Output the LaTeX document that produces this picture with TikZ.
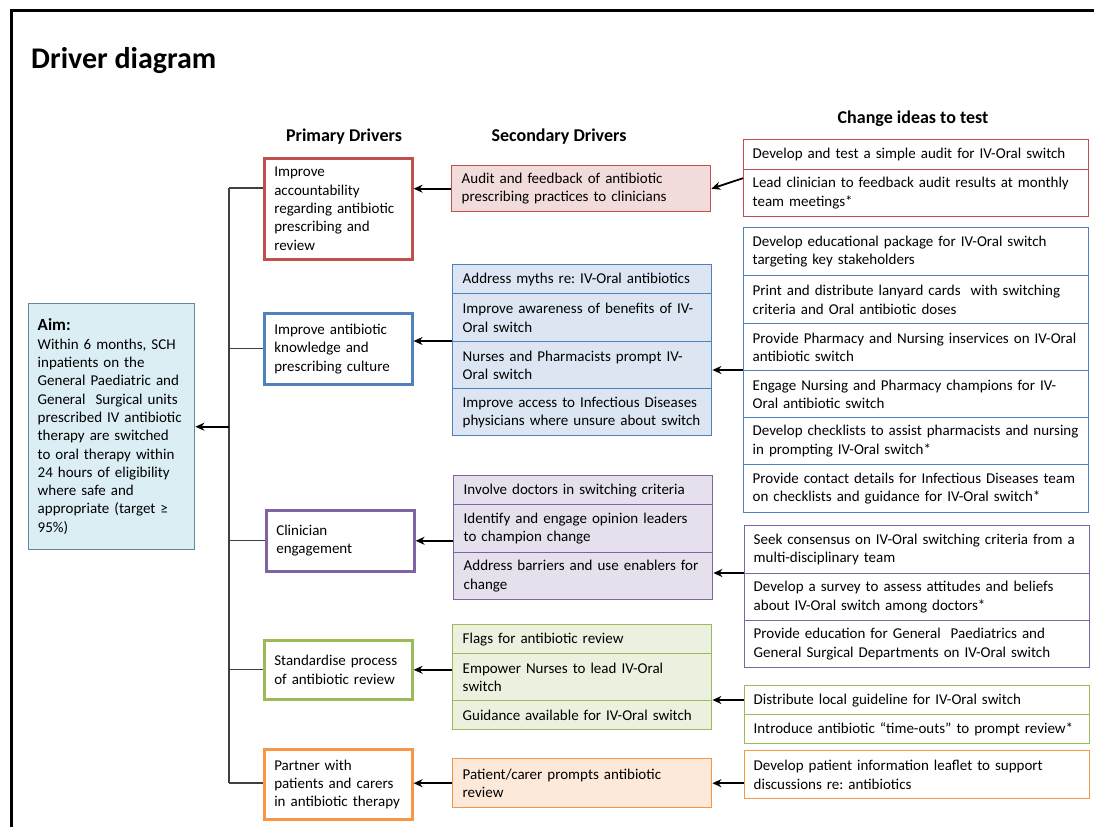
\documentclass[tikz,border=0pt]{standalone}
\usepackage{fontspec}
\setmainfont{Carlito}
\frenchspacing
\usetikzlibrary{arrows.meta,calc}
\definecolor{redL}{HTML}{C0504D}\definecolor{redF}{HTML}{F2DCDB}
\definecolor{blueL}{HTML}{4F81BD}\definecolor{blueF}{HTML}{DCE6F2}
\definecolor{purL}{HTML}{8064A2}\definecolor{purF}{HTML}{E5E0EC}
\definecolor{grnL}{HTML}{9BBB59}\definecolor{grnF}{HTML}{EBF1DE}
\definecolor{orgL}{HTML}{F79646}\definecolor{orgF}{HTML}{FDE9D9}
\definecolor{aimL}{HTML}{5F8B98}\definecolor{aimF}{HTML}{DAEEF3}
\tikzset{
  txt/.style={font=\fontsize{15}{18.3}\selectfont\frenchspacing, align=left, anchor=north west, inner xsep=10pt, inner ysep=1pt},
  prim/.style={txt, draw=#1, line width=2.6pt, fill=white, text width=128pt, minimum width=148pt},
  sec/.style 2 args={txt, draw=#1, fill=#2, line width=1.4pt, text width=239pt, minimum width=259pt},
  chg/.style={txt, draw=#1, fill=white, line width=1.4pt, inner xsep=9pt, text width=327pt, minimum width=345pt},
  hdr/.style={font=\bfseries\fontsize{18}{22}\selectfont, inner sep=0pt},
  arr/.style={line width=1.8pt, -{Stealth[length=9pt,width=8pt]}},
  tree/.style={line width=1.2pt, draw=black!75},
}
\begin{document}
\begin{tikzpicture}[x=1pt,y=-1pt]
\useasboundingbox (0,0) rectangle (1094,827);
\draw[line width=3pt] (1094,10) -- (11,10) -- (11,827);
\node[font=\bfseries\fontsize{30}{36}\selectfont, anchor=base west, inner sep=0pt] (title) at (31,68) {Driver diagram};
\node[hdr] (h1) at (344,137) {Primary Drivers};
\node[hdr] (h2) at (559,137) {Secondary Drivers};
\node[hdr] (h3) at (913,119) {Change ideas to test};
% aim
\node[txt, draw=aimL, fill=aimF, line width=1.4pt, inner xsep=9pt, text width=148pt, minimum width=166pt, minimum height=246pt] (aim) at (28,303)
 {{\bfseries\fontsize{17}{20}\selectfont Aim:}\\Within 6 months, SCH\\inpatients on the\\General Paediatric and\\General\ \ Surgical units\\prescribed IV antibiotic\\therapy are switched\\to oral therapy within\\24 hours of eligibility\\where safe and\\appropriate (target ≥\\95\%)};
% primary
\node[prim=redL, minimum height=101pt] (P1) at (263,157) {Improve\\accountability\\regarding antibiotic\\prescribing and\\review};
\node[prim=blueL, minimum height=71pt] (P2) at (263,312) {Improve antibiotic\\knowledge and\\prescribing culture};
\node[prim=purL, minimum height=61pt] (P3) at (265,509) {Clinician\\engagement};
\node[prim=grnL, minimum height=59pt] (P4) at (263,639) {Standardise process\\of antibiotic review};
\node[prim=orgL, minimum height=70pt] (P5) at (263,748) {Partner with\\patients and carers\\in antibiotic therapy};
% secondary
\node[sec={redL}{redF}, minimum height=46pt] (S1) at (451,165) {Audit and feedback of antibiotic\\prescribing practices to clinicians};
\node[sec={blueL}{blueF}, minimum height=29pt] (SB1) at (452,264) {Address myths re: IV-Oral antibiotics};
\node[sec={blueL}{blueF}, minimum height=48pt] (SB2) at (452,293) {Improve awareness of benefits of IV-\\Oral switch};
\node[sec={blueL}{blueF}, minimum height=47pt] (SB3) at (452,341) {Nurses and Pharmacists prompt IV-\\Oral switch};
\node[sec={blueL}{blueF}, minimum height=47pt] (SB4) at (452,388) {Improve access to Infectious Diseases\\physicians where unsure about switch};
\node[sec={purL}{purF}, minimum height=29pt] (SP1) at (453,475) {Involve doctors in switching criteria};
\node[sec={purL}{purF}, minimum height=48pt] (SP2) at (453,504) {Identify and engage opinion leaders\\to champion change};
\node[sec={purL}{purF}, minimum height=47pt] (SP3) at (453,552) {Address barriers and use enablers for\\change};
\node[sec={grnL}{grnF}, minimum height=29pt] (SG1) at (452,624) {Flags for antibiotic review};
\node[sec={grnL}{grnF}, minimum height=47pt] (SG2) at (452,653) {Empower Nurses to lead IV-Oral\\switch};
\node[sec={grnL}{grnF}, minimum height=29pt] (SG3) at (452,700) {Guidance available for IV-Oral switch};
\node[sec={orgL}{orgF}, minimum height=49pt] (SO) at (452,758) {Patient/carer prompts antibiotic\\review};
% change ideas
\node[chg=redL, minimum height=30pt] (CR1) at (743,139) {Develop and test a simple audit for IV-Oral switch};
\node[chg=redL, minimum height=47pt] (CR2) at (743,169) {Lead clinician to feedback audit results at monthly\\team meetings*};
\node[chg=blueL, minimum height=48pt] (CB1) at (743,227) {Develop educational package for IV-Oral switch\\targeting key stakeholders};
\node[chg=blueL, minimum height=48pt] (CB2) at (743,275) {Print and distribute lanyard cards\ \ with switching\\criteria and Oral antibiotic doses};
\node[chg=blueL, minimum height=47pt] (CB3) at (743,323) {Provide Pharmacy and Nursing inservices on IV-Oral\\antibiotic switch};
\node[chg=blueL, minimum height=47pt] (CB4) at (743,370) {Engage Nursing and Pharmacy champions for IV-\\Oral antibiotic switch};
\node[chg=blueL, minimum height=47pt] (CB5) at (743,417) {Develop checklists to assist pharmacists and nursing\\in prompting IV-Oral switch*};
\node[chg=blueL, minimum height=48pt] (CB6) at (743,464) {Provide contact details for Infectious Diseases team\\on checklists and guidance for IV-Oral switch*};
\node[chg=purL, minimum height=48pt] (CP1) at (744,525) {Seek consensus on IV-Oral switching criteria from a\\multi-disciplinary team};
\node[chg=purL, minimum height=47pt] (CP2) at (744,573) {Develop a survey to assess attitudes and beliefs\\about IV-Oral switch among doctors*};
\node[chg=purL, minimum height=47pt] (CP3) at (744,620) {Provide education for General\ \ Paediatrics and\\General Surgical Departments on IV-Oral switch};
\node[chg=grnL, minimum height=29pt] (CG1) at (744,685) {Distribute local guideline for IV-Oral switch};
\node[chg=grnL, minimum height=29pt] (CG2) at (744,714) {Introduce antibiotic “time-outs” to prompt review*};
\node[chg=orgL, minimum height=48pt] (CO) at (744,750) {Develop patient information leaflet to support\\discussions re: antibiotics};
% tree
\coordinate (T) at (229,188);
\coordinate (B) at (229,783);
\draw[tree] (T) -- (B);
\draw[tree] (T) -- (T -| P1.west);
\draw[tree] (T |- P2.west) -- (P2.west);
\draw[tree] (T |- P3.west) -- (P3.west);
\draw[tree] (T |- P4.west) -- (P4.west);
\draw[tree] (B) -- (B -| P5.west);
\draw[arr] (T |- aim.east) -- (aim.east);
% secondary -> primary
\draw[arr] (S1.west) -- (S1.west -| P1.east);
\draw[arr] (SB3.north west) -- (SB3.north west -| P2.east);
\draw[arr] (SP2.west |- P3.east) -- (P3.east);
\draw[arr] (SG2.west |- P4.east) -- (P4.east);
\draw[arr] (SO.west) -- (SO.west -| P5.east);
% change -> secondary
\coordinate (CRm) at ($(CR1.north west)!0.5!(CR2.south west)$);
\draw[arr] (CRm) -- (S1.east);
\draw[arr] (CB4.north west) -- (CB4.north west -| SB1.east);
\draw[arr] (CP2.north west) -- (CP2.north west -| SP1.east);
\draw[arr] (SG3.north east -| CG1.west) -- (SG3.north east);
\draw[arr] (SO.east -| CO.west) -- (SO.east);
\end{tikzpicture}
\end{document}
